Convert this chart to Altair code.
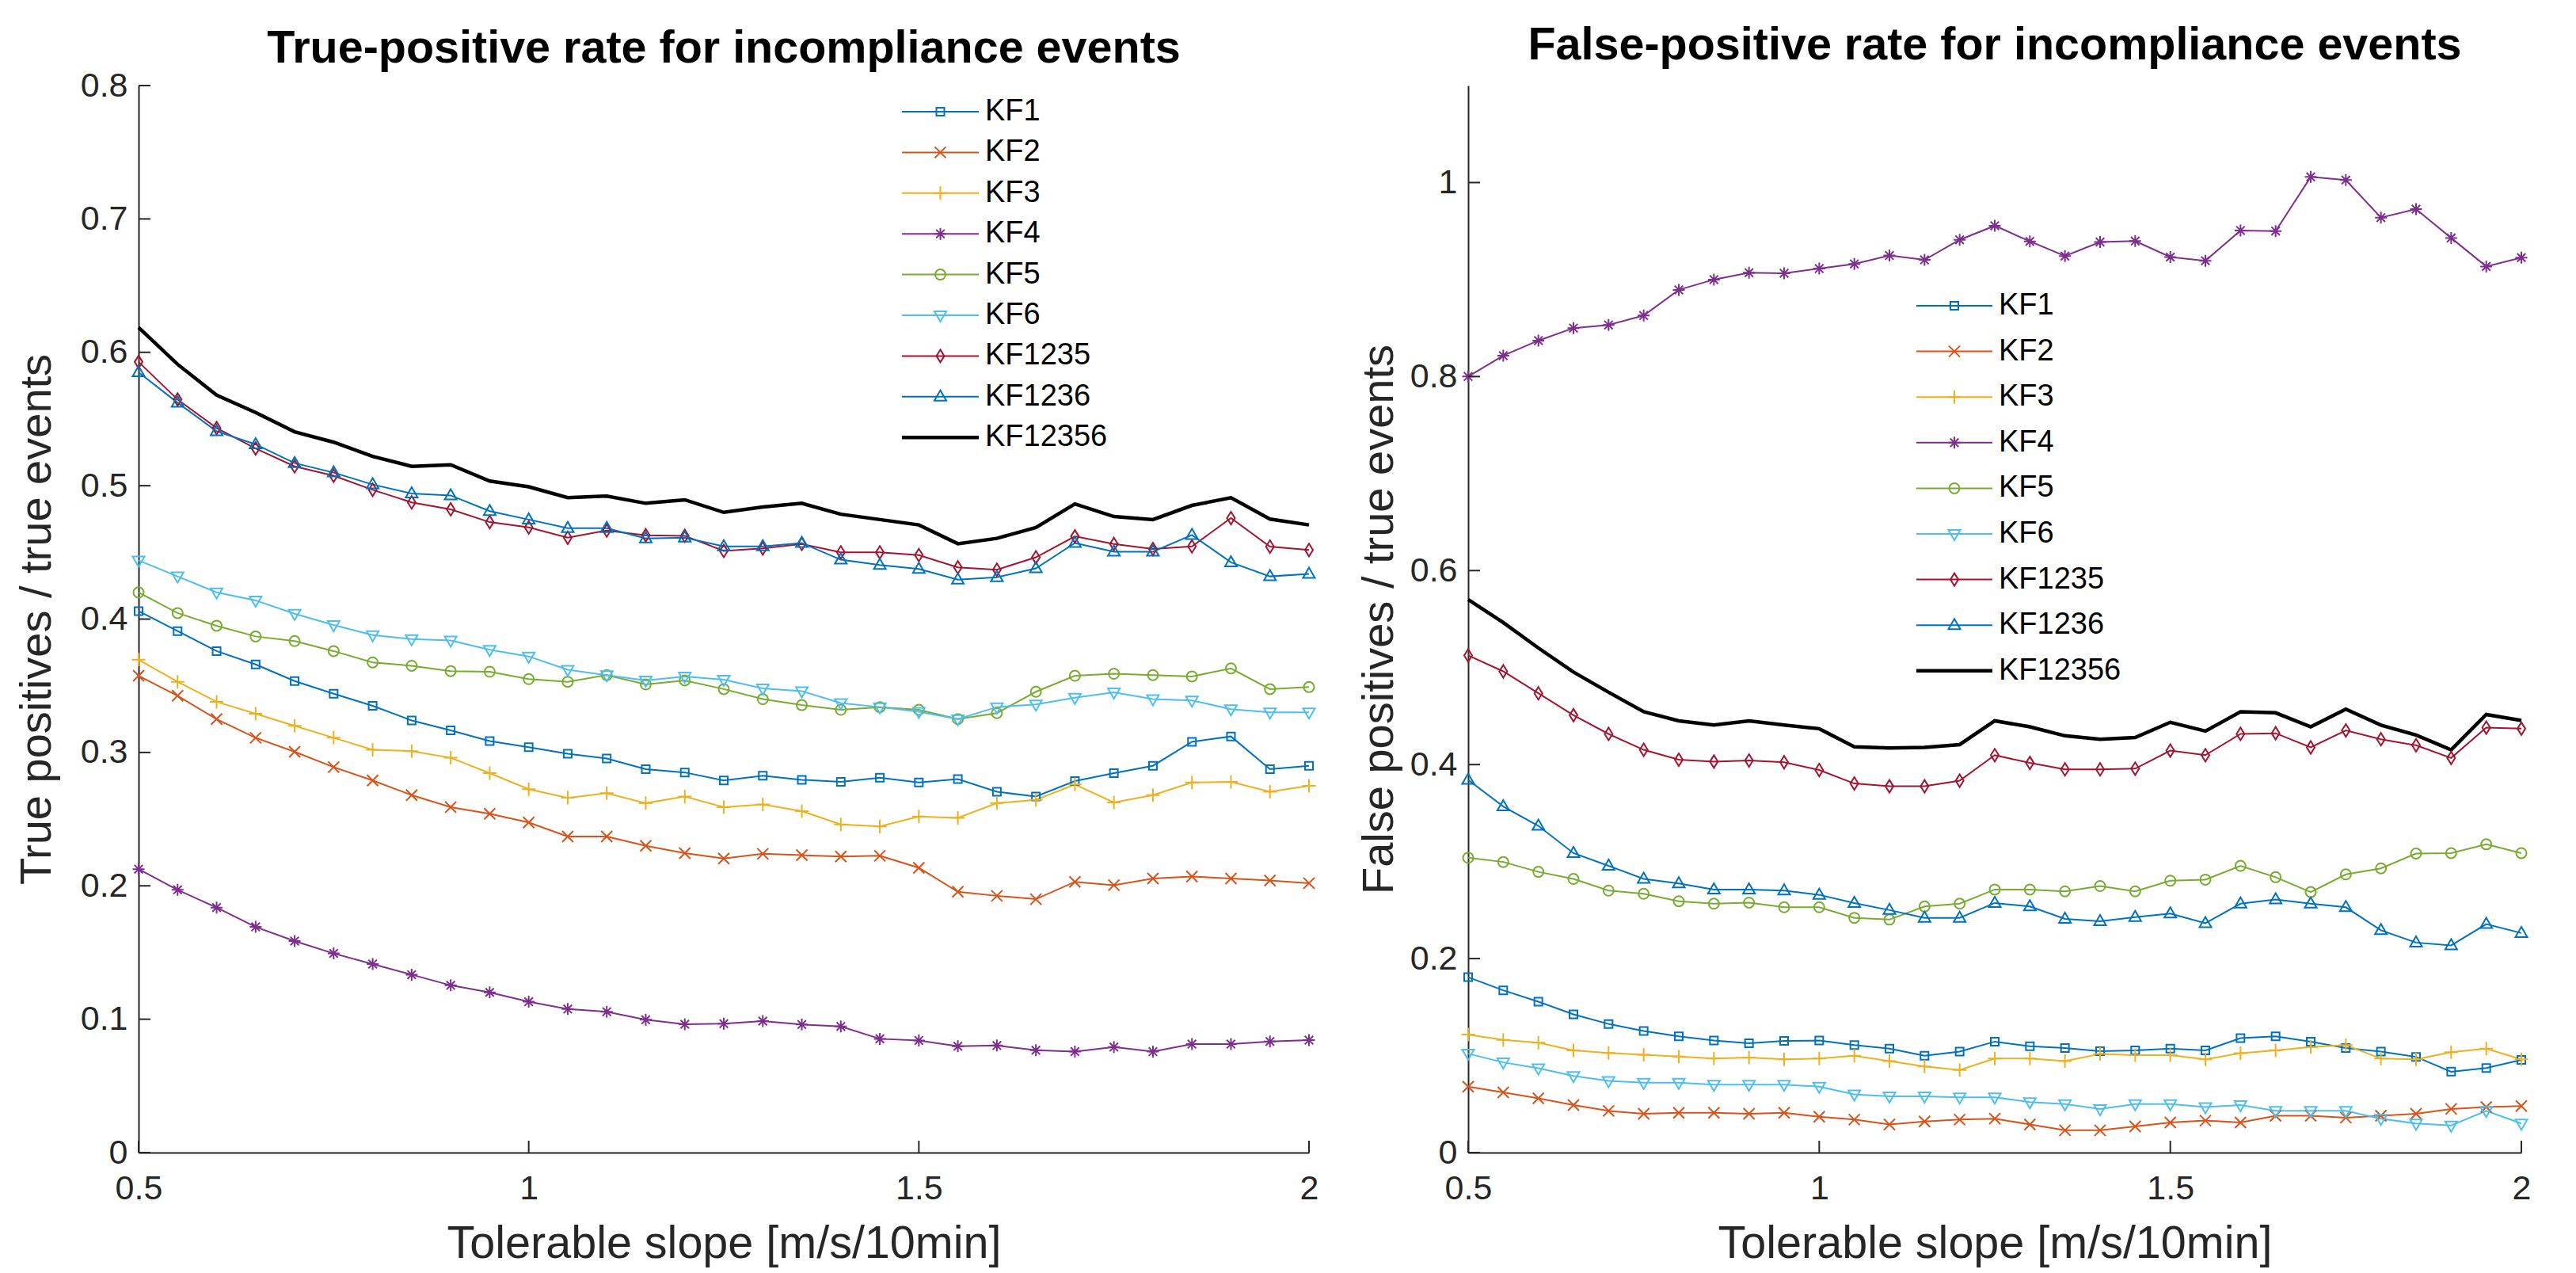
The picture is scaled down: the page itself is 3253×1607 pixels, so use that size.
import altair as alt
import pandas as pd

# ---------------- data ----------------
x_slope = [0.5, 0.55, 0.6, 0.65, 0.7, 0.75, 0.8, 0.85, 0.9, 0.95, 1.0,
           1.05, 1.1, 1.15, 1.2, 1.25, 1.3, 1.35, 1.4, 1.45, 1.5,
           1.55, 1.6, 1.65, 1.7, 1.75, 1.8, 1.85, 1.9, 1.95, 2.0]

series_names = ["KF1", "KF2", "KF3", "KF4", "KF5", "KF6", "KF1235", "KF1236", "KF12356"]
series_colors = ["#0072BD", "#D95319", "#EDB120", "#7E2F8E", "#77AC30",
                 "#4DBEEE", "#A2142F", "#0072BD", "#000000"]
series_widths = [2, 2, 2, 2, 2, 2, 2, 2, 4.5]
marker_paths = [
    "M-5,-5H5V5H-5Z",
    "M-7,-7L7,7M-7,7L7,-7",
    "M-8.5,0H8.5M0,-8.5V8.5",
    "M-7.5,0H7.5M0,-7.5V7.5M-5.3,-5.3L5.3,5.3M-5.3,5.3L5.3,-5.3",
    "M-6.5,0A6.5,6.5,0,1,1,6.5,0A6.5,6.5,0,1,1,-6.5,0Z",
    "M-7.5,-5L7.5,-5L0,8Z",
    "M0,-8L5,0L0,8L-5,0Z",
    "M0,-8L7.5,5L-7.5,5Z",
    "M0,0",
]

x_ticks = [0.5, 1, 1.5, 2]
tpr_y_ticks = [0, 0.1, 0.2, 0.3, 0.4, 0.5, 0.6, 0.7, 0.8]
fpr_y_ticks = [0, 0.2, 0.4, 0.6, 0.8, 1]

# True-positive rate
tpr_kf1 = [0.406, 0.391, 0.376, 0.366, 0.3535, 0.344, 0.335, 0.324, 0.3165, 0.3085, 0.304,
           0.299, 0.2955, 0.2875, 0.285, 0.279, 0.2825, 0.2795, 0.278, 0.281, 0.2775,
           0.28, 0.2705, 0.267, 0.2785, 0.2845, 0.29, 0.308, 0.312, 0.2875, 0.29]
tpr_kf2 = [0.3575, 0.3425, 0.325, 0.311, 0.3005, 0.289, 0.279, 0.268, 0.259, 0.254, 0.2475,
           0.237, 0.237, 0.23, 0.2245, 0.2205, 0.224, 0.223, 0.222, 0.2225, 0.2135,
           0.1955, 0.1925, 0.19, 0.203, 0.2005, 0.2055, 0.207, 0.2055, 0.204, 0.202]
tpr_kf3 = [0.3695, 0.353, 0.338, 0.329, 0.32, 0.311, 0.302, 0.301, 0.296, 0.2845, 0.2725,
           0.266, 0.2695, 0.262, 0.267, 0.259, 0.261, 0.256, 0.246, 0.2445, 0.252,
           0.251, 0.262, 0.2645, 0.276, 0.2625, 0.268, 0.2775, 0.278, 0.2705, 0.275]
tpr_kf4 = [0.2125, 0.197, 0.1837, 0.1692, 0.1586, 0.1493, 0.1414, 0.1334, 0.1254, 0.1201, 0.1131,
           0.1076, 0.1056, 0.0996, 0.0962, 0.0966, 0.0986, 0.096, 0.0946, 0.0853, 0.0841,
           0.0797, 0.0803, 0.0767, 0.0757, 0.0791, 0.0757, 0.0813, 0.0813, 0.0833, 0.0843]
tpr_kf5 = [0.42, 0.4045, 0.395, 0.387, 0.3835, 0.376, 0.3675, 0.365, 0.361, 0.3605, 0.355,
           0.353, 0.358, 0.351, 0.354, 0.3475, 0.34, 0.3355, 0.332, 0.334, 0.332,
           0.325, 0.3295, 0.3455, 0.3575, 0.359, 0.358, 0.357, 0.363, 0.3475, 0.349]
tpr_kf6 = [0.444, 0.432, 0.42, 0.414, 0.404, 0.3955, 0.388, 0.385, 0.384, 0.377, 0.372,
           0.362, 0.358, 0.354, 0.357, 0.3545, 0.348, 0.346, 0.337, 0.334, 0.3305,
           0.325, 0.334, 0.336, 0.341, 0.345, 0.34, 0.339, 0.3325, 0.33, 0.33]
tpr_kf1235 = [0.5928, 0.5646, 0.5432, 0.5279, 0.5145, 0.5075, 0.4969, 0.4875, 0.4823, 0.4727, 0.4687,
              0.461, 0.4664, 0.4628, 0.4624, 0.4511, 0.453, 0.4563, 0.45, 0.45, 0.448,
              0.4388, 0.437, 0.4463, 0.462, 0.4563, 0.4525, 0.4545, 0.4757, 0.4543, 0.4518]
tpr_kf1236 = [0.585, 0.5622, 0.5408, 0.531, 0.5169, 0.5098, 0.5009, 0.4941, 0.4927, 0.4809, 0.4746,
              0.4682, 0.4682, 0.4605, 0.461, 0.4545, 0.4545, 0.457, 0.4445, 0.4405, 0.4375,
              0.4295, 0.4313, 0.438, 0.457, 0.4505, 0.4505, 0.463, 0.4425, 0.432, 0.4338]
tpr_kf12356 = [0.6186, 0.591, 0.5679, 0.5549, 0.5404, 0.5326, 0.522, 0.5145, 0.5157, 0.5035, 0.4992,
               0.491, 0.4922, 0.4868, 0.4894, 0.48, 0.484, 0.4868, 0.4786, 0.4746, 0.4706,
               0.4565, 0.4605, 0.4687, 0.4863, 0.4769, 0.4746, 0.4852, 0.491, 0.475, 0.4706]

# False-positive rate
fpr_kf1 = [0.1808, 0.1673, 0.1556, 0.1425, 0.1326, 0.1253, 0.1199, 0.1155, 0.1126, 0.1151, 0.1155,
           0.1108, 0.1071, 0.0998, 0.1042, 0.1144, 0.1097, 0.1078, 0.1046, 0.1053, 0.1071,
           0.1053, 0.118, 0.1199, 0.1144, 0.1078, 0.1042, 0.0987, 0.0834, 0.0871, 0.0955]
fpr_kf2 = [0.068, 0.062, 0.056, 0.049, 0.043, 0.04, 0.041, 0.041, 0.04, 0.041, 0.037,
           0.034, 0.029, 0.032, 0.034, 0.035, 0.029, 0.023, 0.023, 0.027, 0.031,
           0.033, 0.031, 0.038, 0.038, 0.036, 0.038, 0.04, 0.045, 0.047, 0.048]
fpr_kf3 = [0.1217, 0.1162, 0.1133, 0.1053, 0.1027, 0.1009, 0.0991, 0.0969, 0.098, 0.0962, 0.0969,
           0.0998, 0.0943, 0.0889, 0.0852, 0.0969, 0.0969, 0.0943, 0.1016, 0.1005, 0.1005,
           0.0962, 0.1024, 0.1053, 0.1089, 0.1108, 0.0969, 0.0962, 0.1035, 0.1071, 0.0962]
fpr_kf4 = [0.8, 0.8216, 0.8371, 0.85, 0.8532, 0.8629, 0.8894, 0.9, 0.9071, 0.9065, 0.9113,
           0.9161, 0.9248, 0.9203, 0.941, 0.9555, 0.9394, 0.9242, 0.9387, 0.9397, 0.9232,
           0.9194, 0.9506, 0.95, 1.0058, 1.0026, 0.9639, 0.9726, 0.9429, 0.9135, 0.9226]
fpr_kf5 = [0.304, 0.2996, 0.2894, 0.2821, 0.2701, 0.2668, 0.2591, 0.2566, 0.2577, 0.2529, 0.2529,
           0.242, 0.2402, 0.2537, 0.2566, 0.2712, 0.2712, 0.2693, 0.2748, 0.2693, 0.2803,
           0.2814, 0.2956, 0.2839, 0.2686, 0.2868, 0.293, 0.3083, 0.3087, 0.3178, 0.3087]
fpr_kf6 = [0.102, 0.093, 0.087, 0.079, 0.074, 0.072, 0.072, 0.07, 0.07, 0.07, 0.068,
           0.06, 0.058, 0.058, 0.057, 0.057, 0.052, 0.05, 0.045, 0.05, 0.05,
           0.047, 0.049, 0.043, 0.043, 0.043, 0.035, 0.03, 0.028, 0.043, 0.03]
fpr_kf1235 = [0.5125, 0.4961, 0.4735, 0.4509, 0.4316, 0.4152, 0.405, 0.4031, 0.4042, 0.4024, 0.3944,
              0.3805, 0.3776, 0.3776, 0.3834, 0.4097, 0.4017, 0.3951, 0.3951, 0.3958, 0.4144,
              0.4097, 0.4316, 0.4323, 0.4177, 0.4352, 0.4261, 0.4199, 0.4068, 0.4381, 0.437]
fpr_kf1236 = [0.3842, 0.3568, 0.3368, 0.3087, 0.2956, 0.2821, 0.2774, 0.2712, 0.2712, 0.2701, 0.2657,
              0.2573, 0.25, 0.242, 0.242, 0.2573, 0.2537, 0.2409, 0.2384, 0.2427, 0.2464,
              0.2365, 0.2566, 0.261, 0.2566, 0.2529, 0.2292, 0.2165, 0.2136, 0.2355, 0.2263]
fpr_kf12356 = [0.5701, 0.5464, 0.5202, 0.4954, 0.4746, 0.4545, 0.4451, 0.4407, 0.4451, 0.4407, 0.437,
               0.4184, 0.417, 0.4177, 0.4206, 0.4451, 0.4389, 0.4297, 0.4261, 0.4279, 0.4436,
               0.4345, 0.4545, 0.4534, 0.4389, 0.4571, 0.4407, 0.4305, 0.4152, 0.4516, 0.4454]

tpr_lists = [tpr_kf1, tpr_kf2, tpr_kf3, tpr_kf4, tpr_kf5, tpr_kf6, tpr_kf1235, tpr_kf1236, tpr_kf12356]
fpr_lists = [fpr_kf1, fpr_kf2, fpr_kf3, fpr_kf4, fpr_kf5, fpr_kf6, fpr_kf1235, fpr_kf1236, fpr_kf12356]

# ---------------- styling ----------------
FONT = "Liberation Sans"
AXC = "#262626"
PLOT_H = 1347
TICK_LEN = 15
LEG_FONT = 38
TICK_FONT = 43
TITLE_FONT = 57.5
YTITLE_FONT = 56


def long_table(lists):
    rows = []
    for name, vals in zip(series_names, lists):
        for xv, yv in zip(x_slope, vals):
            rows.append({"slope": xv, "rate": yv, "series": name})
    return pd.DataFrame(rows)


def panel(df, y_max, y_ticks, width, title, title_off, y_title, y_title_pad,
          leg_x, leg_y, row_pad, line_len, label_gap):
    xs = alt.Scale(domain=[0.5, 2], nice=False, zero=False)
    ys = alt.Scale(domain=[0, y_max], nice=False, zero=True)
    x_axis = alt.Axis(values=x_ticks, format="~g", title="Tolerable slope [m/s/10min]",
                      labelFlush=False, labelOverlap=False, ticks=False, tickSize=0, grid=False,
                      domainColor=AXC, domainWidth=2, labelFont=FONT, labelFontSize=TICK_FONT,
                      labelColor=AXC, labelPadding=24, titleFont=FONT, titleFontSize=TITLE_FONT,
                      titleFontWeight="normal", titleColor=AXC, titlePadding=20)
    y_axis = alt.Axis(values=y_ticks, format="~g", title=y_title,
                      labelOverlap=False, ticks=False, tickSize=0, grid=False,
                      domainColor=AXC, domainWidth=2, labelFont=FONT, labelFontSize=TICK_FONT,
                      labelColor=AXC, labelPadding=14, titleFont=FONT, titleFontSize=YTITLE_FONT,
                      titleFontWeight="normal", titleColor=AXC, titlePadding=y_title_pad)
    half = line_len / 2.0
    # symbol column of the legend is LEG_FONT wide; shift symbols so the line starts at 0
    sym_off = half - LEG_FONT / 2.0
    common = dict(orient="none", legendX=leg_x, legendY=leg_y, title=None, labelFont=FONT,
                  labelFontSize=LEG_FONT, labelColor="#000000", labelLimit=600,
                  rowPadding=row_pad, padding=0, symbolOffset=sym_off,
                  labelOffset=label_gap - LEG_FONT - sym_off)
    line_leg = alt.Legend(symbolType="M-%g,0H%g" % (half, half), symbolSize=4,
                          symbolStrokeWidth=2, **common)
    mark_leg = alt.Legend(symbolSize=4, symbolStrokeWidth=2, labelOpacity=0, **common)

    base = alt.Chart(df)
    lines = base.mark_line().encode(
        x=alt.X("slope:Q", scale=xs, axis=x_axis),
        y=alt.Y("rate:Q", scale=ys, axis=y_axis),
        color=alt.Color("series:N", scale=alt.Scale(domain=series_names, range=series_colors),
                        legend=line_leg),
        strokeWidth=alt.StrokeWidth("series:N",
                                    scale=alt.Scale(type="ordinal", domain=series_names,
                                                    range=series_widths),
                                    legend=line_leg),
    )
    points = base.transform_filter(alt.datum.series != "KF12356").mark_point(
        size=4, strokeWidth=2, filled=False, opacity=1
    ).encode(
        x=alt.X("slope:Q", scale=xs, axis=x_axis),
        y=alt.Y("rate:Q", scale=ys, axis=y_axis),
        color=alt.Color("series:N", scale=alt.Scale(domain=series_names, range=series_colors),
                        legend=mark_leg),
        shape=alt.Shape("series:N", scale=alt.Scale(domain=series_names, range=marker_paths),
                        legend=mark_leg),
    )
    ytick_rules = alt.Chart(pd.DataFrame({"t": y_ticks})).mark_rule(
        color=AXC, strokeWidth=2
    ).encode(
        y=alt.Y("t:Q", scale=ys, axis=y_axis),
        x=alt.value(0), x2=alt.value(TICK_LEN),
    )
    xtick_rules = alt.Chart(pd.DataFrame({"t": x_ticks})).mark_rule(
        color=AXC, strokeWidth=2
    ).encode(
        x=alt.X("t:Q", scale=xs, axis=x_axis),
        y=alt.value(PLOT_H), y2=alt.value(PLOT_H - TICK_LEN),
    )
    return alt.layer(lines, points, ytick_rules, xtick_rules).resolve_scale(
        color="independent", shape="independent", strokeWidth="independent"
    ).properties(
        width=width, height=PLOT_H,
        title=alt.TitleParams(text=title, font=FONT, fontSize=TITLE_FONT, fontWeight="bold",
                              color="#000000", offset=title_off, anchor="middle"),
    )


left = panel(long_table(tpr_lists), 0.8, tpr_y_ticks, 1478,
             "True-positive rate for incompliance events", -4,
             "True positives / true events", 26,
             964, 14, 13.4, 97, 105)
right = panel(long_table(fpr_lists), 1.1, fpr_y_ticks, 1330,
              "False-positive rate for incompliance events", 21,
              "False positives / true events", 10,
              566, 259, 19.6, 96, 104)

chart = alt.hconcat(left, right, spacing=47).resolve_scale(
    color="independent", shape="independent", strokeWidth="independent"
).resolve_legend(
    color="independent", shape="independent", strokeWidth="independent"
).properties(
    padding={"left": 10, "top": 20, "right": 5, "bottom": 5}
).configure_view(strokeWidth=0)

chart.save("out.html", embed_options={"renderer": "svg", "actions": False})
